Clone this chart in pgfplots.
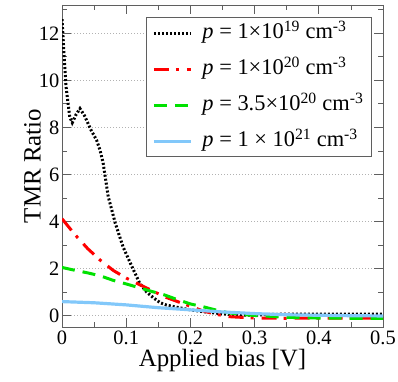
\documentclass[border=0pt]{standalone}
\usepackage{fontspec}
\setmainfont{Liberation Serif}
\usepackage{pgfplots}
\pgfplotsset{compat=1.18}
\definecolor{myred}{RGB}{255,0,0}
\definecolor{mygreen}{RGB}{0,225,0}
\definecolor{myblue}{RGB}{130,200,250}
\definecolor{axgray}{RGB}{95,95,95}
\begin{document}
\begin{tikzpicture}
\begin{axis}[
  name=ax,
  scale only axis,
  width=321bp, height=322bp,
  xmin=0, xmax=0.5, ymin=-0.48, ymax=13.2,
  xtick={0,0.1,0.2,0.3,0.4,0.5},
  xticklabels={0,0.1,0.2,0.3,0.4,0.5},
  minor xtick={0.05,0.15,0.25,0.35,0.45},
  ytick={0,2,4,6,8,10,12},
  yticklabels={0,2,4,6,8,10,12},
  minor ytick={1,3,5,7,9,11,13},
  tick align=inside,
  major tick length=9bp, minor tick length=5bp,
  every tick/.style={axgray, line width=0.8bp},
  axis line style={axgray, line width=0.9bp},
  ymajorgrids,
  major grid style={dash pattern=on 1bp off 2bp, gray!60, line width=0.7bp},
  /pgf/number format/assume math mode=true,
  tick label style={font=\fontsize{20.5}{24}\selectfont, inner sep=2.5bp},
  xticklabel style={yshift=-1.5bp},
  label style={font=\fontsize{25}{30}\selectfont},
  xlabel={Applied bias [V]},
  ylabel={TMR Ratio},
  x label style={at={(axis description cs:0.5,-0.124)}, anchor=base},
  y label style={at={(axis description cs:-0.092,0.5)}, anchor=center},
  legend style={at={(0.965,0.962)}, anchor=north east, draw=axgray, line width=0.8bp, fill=white,
    font=\fontsize{22.5}{26}\selectfont, row sep=11bp,
    nodes={text height=16bp, text depth=5bp, inner sep=2bp, anchor=west},
    inner xsep=6bp, inner ysep=3bp},
  legend cell align=left,
  legend image code/.code={\draw[#1] (0bp,0bp) -- (37bp,0bp); \path (45bp,0bp);},
]
\addplot[black, line width=3bp, dash pattern=on 2bp off 2bp] coordinates {
(0,12.6)(0.003,11.2)(0.006,9.8)(0.012,8.45)(0.016,8.2)(0.022,8.55)(0.028,8.8)(0.035,8.5)(0.045,7.9)(0.054,7.45)(0.059,7.05)(0.064,6.5)(0.072,5.06)(0.083,3.93)(0.095,2.93)(0.109,2.08)(0.121,1.38)(0.132,1.0)(0.143,0.75)(0.153,0.55)(0.163,0.45)(0.175,0.38)(0.2,0.25)(0.22,0.17)(0.25,0.08)(0.28,0.02)(0.3,0.02)(0.32,0.05)(0.35,0.07)(0.4,0.07)(0.45,0.07)(0.5,0.07)
};
\addlegendentry{\textit{p} = 1×10\textsuperscript{19} cm\textsuperscript{-3}}
\addplot[myred, line width=3bp, dash pattern=on 15bp off 7bp on 3bp off 8bp] coordinates {
(0,4.12)(0.02,3.45)(0.04,2.85)(0.06,2.35)(0.08,1.92)(0.1,1.6)(0.12,1.33)(0.14,1.07)(0.16,0.8)(0.18,0.6)(0.2,0.4)(0.22,0.2)(0.24,0.06)(0.26,-0.04)(0.3,-0.1)(0.35,-0.11)(0.4,-0.1)(0.45,-0.1)(0.5,-0.1)
};
\addlegendentry{\textit{p} = 1×10\textsuperscript{20} cm\textsuperscript{-3}}
\addplot[mygreen, line width=3bp, dash pattern=on 13bp off 8bp] coordinates {
(0,2.05)(0.02,1.93)(0.04,1.82)(0.06,1.69)(0.08,1.5)(0.1,1.35)(0.12,1.19)(0.14,1.03)(0.16,0.88)(0.18,0.68)(0.2,0.5)(0.22,0.38)(0.24,0.24)(0.26,0.12)(0.28,0.05)(0.3,0.01)(0.32,-0.02)(0.35,-0.07)(0.4,-0.1)(0.45,-0.11)(0.5,-0.11)
};
\addlegendentry{\textit{p} = 3.5×10\textsuperscript{20} cm\textsuperscript{-3}}
\addplot[myblue, line width=3.2bp] coordinates {
(0,0.6)(0.05,0.55)(0.1,0.46)(0.15,0.34)(0.2,0.25)(0.25,0.16)(0.3,0.09)(0.35,0.04)(0.4,0.02)(0.45,0.0)(0.5,-0.01)
};
\addlegendentry{\textit{p} = 1 × 10\textsuperscript{21} cm\textsuperscript{-3}}
\end{axis}
\pgfresetboundingbox
\path ([shift={(-62bp,-54bp)}]ax.south west) rectangle ([shift={(15bp,5bp)}]ax.north east);
\end{tikzpicture}
\end{document}
